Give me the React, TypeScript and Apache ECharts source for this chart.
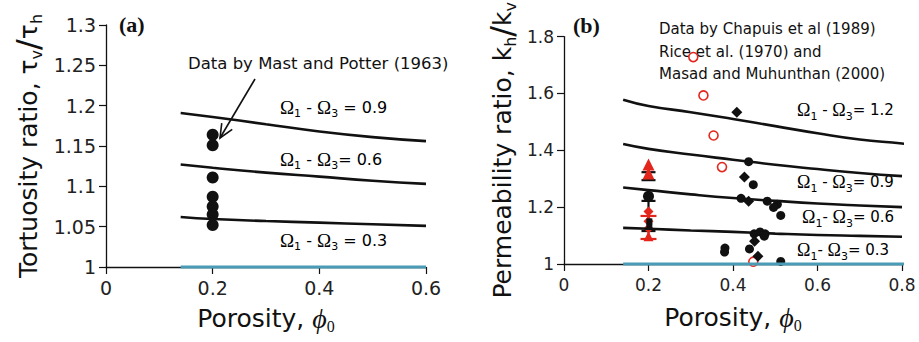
import React, { useEffect, useRef } from "react";
import * as echarts from "echarts";

// ---------- Panel (a): tortuosity ratio ----------
const curvePorosityA = [0.14, 0.2, 0.3, 0.4, 0.5, 0.6];
const tortuosityOmega09 = [1.191, 1.186, 1.177, 1.168, 1.161, 1.156];
const tortuosityOmega06 = [1.127, 1.123, 1.117, 1.112, 1.107, 1.103];
const tortuosityOmega03 = [1.062, 1.0595, 1.057, 1.055, 1.053, 1.051];
const baselinePorosityA = [0.14, 0.6];
const baselineRatioA = [1, 1];
const mastPotterPorosity = [0.2, 0.2, 0.2, 0.2, 0.2, 0.2, 0.2];
const mastPotterTortuosity = [1.164, 1.151, 1.111, 1.087, 1.075, 1.065, 1.052];
const xTicksA = [0, 0.6, 0.2];
const yTicksA = [1, 1.3, 0.05];

// ---------- Panel (b): permeability ratio ----------
const curvePorosityB = [0.14, 0.2, 0.3, 0.4, 0.5, 0.6, 0.7, 0.8];
const curvePorosityB12 = [0.14, 0.2, 0.3, 0.4, 0.5, 0.6, 0.7, 0.8, 0.82];
const permOmega12 = [1.578, 1.556, 1.534, 1.51, 1.485, 1.46, 1.438, 1.424, 1.419];
const permOmega09 = [1.422, 1.405, 1.385, 1.367, 1.349, 1.334, 1.32, 1.309];
const permOmega06 = [1.269, 1.26, 1.245, 1.232, 1.222, 1.213, 1.206, 1.2];
const permOmega03 = [1.127, 1.124, 1.118, 1.113, 1.107, 1.102, 1.099, 1.096];
const baselinePorosityB = [0.14, 0.805];
const baselineRatioB = [1, 1];

const blackCirclePorosity = [0.437, 0.448, 0.419, 0.481, 0.505, 0.496, 0.513, 0.45, 0.464, 0.476, 0.474, 0.381, 0.38, 0.439, 0.513];
const blackCircleRatio = [1.36, 1.279, 1.231, 1.221, 1.21, 1.199, 1.171, 1.106, 1.113, 1.106, 1.098, 1.056, 1.042, 1.053, 1.009];
const blackDiamondPorosity = [0.409, 0.427, 0.437, 0.451, 0.459];
const blackDiamondRatio = [1.534, 1.306, 1.221, 1.08, 1.027];
const redCirclePorosity = [0.306, 0.33, 0.354, 0.374, 0.448];
const redCircleRatio = [1.728, 1.593, 1.452, 1.341, 1.008];

// cluster at porosity 0.2
const redTriangleUpPorosity = [0.2, 0.2];
const redTriangleUpRatio = [1.35, 1.318];
const blackMeanPorosity = [0.2];
const blackMeanRatio = [1.238];
const redDiamondPorosity = [0.2, 0.2, 0.2];
const redDiamondRatio = [1.185, 1.15, 1.125];
const redTriangleDownPorosity = [0.2];
const redTriangleDownRatio = [1.098];
const blackSquarePorosity = [0.202, 0.202];
const blackSquareRatio = [1.15, 1.132];
const blackErrPorosity = [0.2, 0.2];
const blackErrLow = [1.295, 1.116];
const blackErrHigh = [1.323, 1.222];
const redErrPorosity = [0.2];
const redErrLow = [1.088];
const redErrHigh = [1.169];
const xTicksB = [0, 0.8, 0.2];
const yTicksB = [1, 1.8, 0.2];

const zip = (xs: number[], ys: number[]) => xs.map((x, i) => [x, ys[i]]);
const zip3 = (xs: number[], a: number[], b: number[]) => xs.map((x, i) => [x, a[i], b[i]]);

const SANS = "DejaVu Sans";
const SERIF = "Liberation Serif";
const RED = "#e3261c";
const BLUE = "#4a9bb6";

const subRich = (size: number) => ({
  n: { fontFamily: SANS, fontSize: size, lineHeight: size + 8, verticalAlign: "middle", color: "#111" },
  o: { fontFamily: SERIF, fontSize: size + 3, lineHeight: size + 8, verticalAlign: "middle", color: "#111" },
  s: { fontFamily: SANS, fontSize: Math.round(size * 0.7), lineHeight: Math.round(size * 0.7), verticalAlign: "bottom", color: "#111" },
});

const omegaLabel = (x: number, y: number, value: string, spaced: boolean, size: number, tight = false) => ({
  type: "text",
  x,
  y,
  style: {
    text: `{o|Ω}{s|1}{n|${tight ? "- " : " - "}}{o|Ω}{s|3}{n|${spaced ? " = " : "= "}${value}}`,
    rich: subRich(size),
    verticalAlign: "middle",
    align: "left",
  },
});

const arrowHead = (hx: number, hy: number, tx: number, ty: number, len: number, ang: number) => {
  const dx = tx - hx, dy = ty - hy;
  const L = Math.hypot(dx, dy);
  const ux = dx / L, uy = dy / L;
  const c = Math.cos(ang), s = Math.sin(ang);
  const a = [hx + len * (ux * c - uy * s), hy + len * (ux * s + uy * c)];
  const b = [hx + len * (ux * c + uy * s), hy + len * (-ux * s + uy * c)];
  return [a, [hx, hy], b];
};

const axisCommon = () => ({
  axisLine: { show: true, lineStyle: { color: "#111", width: 1.3 } },
  axisTick: { show: true, length: 7, lineStyle: { color: "#111", width: 1.2 } },
  splitLine: { show: false },
});

const nameRichX = {
  n: { fontFamily: SANS, fontSize: 25, lineHeight: 32, verticalAlign: "middle", color: "#111" },
  phi: { fontFamily: SERIF, fontStyle: "italic", fontSize: 28, lineHeight: 32, verticalAlign: "middle", color: "#111" },
  s: { fontFamily: SERIF, fontSize: 16, lineHeight: 16, verticalAlign: "bottom", color: "#111" },
};

const nameRichY = {
  n: { fontFamily: SANS, fontSize: 25, lineHeight: 32, verticalAlign: "middle", color: "#111" },
  g: { fontFamily: SANS, fontSize: 25, lineHeight: 32, verticalAlign: "middle", color: "#111" },
  sl: { fontFamily: SANS, fontSize: 32, lineHeight: 32, verticalAlign: "middle", color: "#111" },
  s: { fontFamily: SANS, fontSize: 16, lineHeight: 16, verticalAlign: "bottom", color: "#111" },
};

const errorBarSeries = (data: number[][], color: string, capW: number) => ({
  type: "custom",
  xAxisIndex: 1,
  yAxisIndex: 1,
  data,
  encode: { x: 0, y: [1, 2] },
  renderItem: (params: any, api: any) => {
    const x = api.value(0);
    const lo = api.coord([x, api.value(1)]);
    const hi = api.coord([x, api.value(2)]);
    const st = { stroke: color, lineWidth: 2.2 };
    return {
      type: "group",
      children: [
        { type: "line", shape: { x1: lo[0], y1: lo[1], x2: hi[0], y2: hi[1] }, style: st },
        { type: "line", shape: { x1: lo[0] - capW / 2, y1: lo[1], x2: lo[0] + capW / 2, y2: lo[1] }, style: st },
        { type: "line", shape: { x1: hi[0] - capW / 2, y1: hi[1], x2: hi[0] + capW / 2, y2: hi[1] }, style: st },
      ],
    };
  },
});

const curve = (xs: number[], ys: number[], gi: number, color = "#111", width = 2.6) => ({
  type: "line",
  xAxisIndex: gi,
  yAxisIndex: gi,
  data: zip(xs, ys),
  smooth: true,
  showSymbol: false,
  symbol: "none",
  clip: false,
  lineStyle: { color, width },
});

const scatter = (xs: number[], ys: number[], symbol: string, size: number, item: any) => ({
  type: "scatter",
  xAxisIndex: 1,
  yAxisIndex: 1,
  data: zip(xs, ys),
  symbol,
  symbolSize: size,
  itemStyle: { opacity: 1, ...item },
});

export default function App() {
  const ref = useRef<HTMLDivElement>(null);
  useEffect(() => {
    if (!ref.current) return;
    const chart = echarts.init(ref.current, undefined, { renderer: "svg" });
    const arrowPts = arrowHead(220, 138, 255, 79, 15, (24 * Math.PI) / 180);
    chart.setOption({
      animation: false,
      backgroundColor: "#fff",
      grid: [
        { left: 106, top: 25, width: 320, height: 242 },
        { left: 564, top: 22, width: 338, height: 242 },
      ],
      xAxis: [
        {
          gridIndex: 0,
          type: "value",
          min: xTicksA[0],
          max: xTicksA[1],
          interval: xTicksA[2],
          ...axisCommon(),
          axisLabel: { fontFamily: SANS, fontSize: 19, color: "#222", margin: 11 },
          name: "{n|Porosity, }{phi|ϕ}{s|0}",
          nameLocation: "middle",
          nameGap: 35,
          nameTextStyle: { rich: nameRichX },
        },
        {
          gridIndex: 1,
          type: "value",
          min: xTicksB[0],
          max: xTicksB[1],
          interval: xTicksB[2],
          ...axisCommon(),
          axisLabel: { fontFamily: SANS, fontSize: 17, color: "#222", margin: 12 },
          name: "{n|Porosity, }{phi|ϕ}{s|0}",
          nameLocation: "middle",
          nameGap: 37,
          nameTextStyle: { rich: nameRichX },
        },
      ],
      yAxis: [
        {
          gridIndex: 0,
          type: "value",
          min: yTicksA[0],
          max: yTicksA[1],
          interval: yTicksA[2],
          ...axisCommon(),
          axisLabel: { fontFamily: SANS, fontSize: 19, color: "#222", margin: 10 },
          name: "{n|Tortuosity ratio, }{g|τ}{s|v}{sl|/}{g|τ}{s|h}",
          nameLocation: "middle",
          nameGap: 62,
          nameTextStyle: { rich: nameRichY },
        },
        {
          gridIndex: 1,
          type: "value",
          min: yTicksB[0],
          max: yTicksB[1],
          interval: yTicksB[2],
          ...axisCommon(),
          axisLabel: { fontFamily: SANS, fontSize: 17, color: "#222", margin: 10 },
          name: "{n|Permeability ratio, k}{s|h}{sl|/}{n|k}{s|v}",
          nameLocation: "middle",
          nameGap: 46,
          nameTextStyle: { rich: nameRichY },
        },
      ],
      series: [
        // panel (a)
        curve(baselinePorosityA, baselineRatioA, 0, BLUE, 2.8),
        curve(curvePorosityA, tortuosityOmega09, 0),
        curve(curvePorosityA, tortuosityOmega06, 0),
        curve(curvePorosityA, tortuosityOmega03, 0),
        {
          type: "scatter",
          xAxisIndex: 0,
          yAxisIndex: 0,
          data: zip(mastPotterPorosity, mastPotterTortuosity),
          symbol: "circle",
          symbolSize: 12,
          itemStyle: { color: "#111", opacity: 1 },
        },
        // panel (b)
        curve(baselinePorosityB, baselineRatioB, 1, BLUE, 2.8),
        curve(curvePorosityB12, permOmega12, 1),
        curve(curvePorosityB, permOmega09, 1),
        curve(curvePorosityB, permOmega06, 1),
        curve(curvePorosityB, permOmega03, 1),
        scatter(redCirclePorosity, redCircleRatio, "circle", 9, { color: "#fff", borderColor: RED, borderWidth: 1.6 }),
        scatter(blackCirclePorosity, blackCircleRatio, "circle", 9, { color: "#111" }),
        scatter(blackDiamondPorosity, blackDiamondRatio, "diamond", 11, { color: "#111" }),
        scatter(redTriangleUpPorosity, redTriangleUpRatio, "triangle", 12, { color: RED }),
        errorBarSeries(zip3(blackErrPorosity, blackErrLow, blackErrHigh), "#111", 14),
        scatter(blackMeanPorosity, blackMeanRatio, "circle", 11, { color: "#111" }),
        scatter(redDiamondPorosity, redDiamondRatio, "diamond", 10, { color: RED }),
        errorBarSeries(zip3(redErrPorosity, redErrLow, redErrHigh), RED, 16),
        scatter(redTriangleDownPorosity, redTriangleDownRatio, "triangle", 10, { color: RED }),
        scatter(blackSquarePorosity, blackSquareRatio, "rect", 6, { color: "#111" }),
      ],
      graphic: [
        {
          type: "text",
          x: 119,
          y: 24,
          style: { text: "(a)", font: `bold 22px "${SERIF}"`, fill: "#111", verticalAlign: "middle" },
        },
        {
          type: "text",
          x: 573,
          y: 25,
          style: { text: "(b)", font: `bold 22px "${SERIF}"`, fill: "#111", verticalAlign: "middle" },
        },
        {
          type: "text",
          x: 188,
          y: 63,
          style: { text: "Data by Mast and Potter (1963)", font: `16.5px "${SANS}"`, fill: "#111", verticalAlign: "middle" },
        },
        {
          type: "line",
          shape: { x1: 255, y1: 79, x2: 220, y2: 138 },
          style: { stroke: "#111", lineWidth: 1.6 },
        },
        {
          type: "polyline",
          shape: { points: arrowPts },
          style: { stroke: "#111", lineWidth: 1.6, fill: null },
        },
        omegaLabel(280, 107, "0.9", true, 16),
        omegaLabel(280, 159, "0.6", false, 16),
        omegaLabel(280, 240, "0.3", true, 16),
        {
          type: "text",
          x: 659,
          y: 29,
          style: { text: "Data by Chapuis et al (1989)", font: `15px "${SANS}"`, fill: "#111", verticalAlign: "middle" },
        },
        {
          type: "text",
          x: 659,
          y: 52,
          style: { text: "Rice et al. (1970) and", font: `15px "${SANS}"`, fill: "#111", verticalAlign: "middle" },
        },
        {
          type: "text",
          x: 659,
          y: 74,
          style: { text: "Masad and Muhunthan (2000)", font: `15px "${SANS}"`, fill: "#111", verticalAlign: "middle" },
        },
        omegaLabel(797, 110, "1.2", false, 15),
        omegaLabel(797, 182, "0.9", false, 15),
        omegaLabel(802, 217, "0.6", false, 15, true),
        omegaLabel(797, 250, "0.3", false, 15, true),
      ],
    });
    return () => chart.dispose();
  }, []);
  return <div ref={ref} style={{ position: "absolute", left: 0, top: 0, width: 919, height: 342 }} />;
}
